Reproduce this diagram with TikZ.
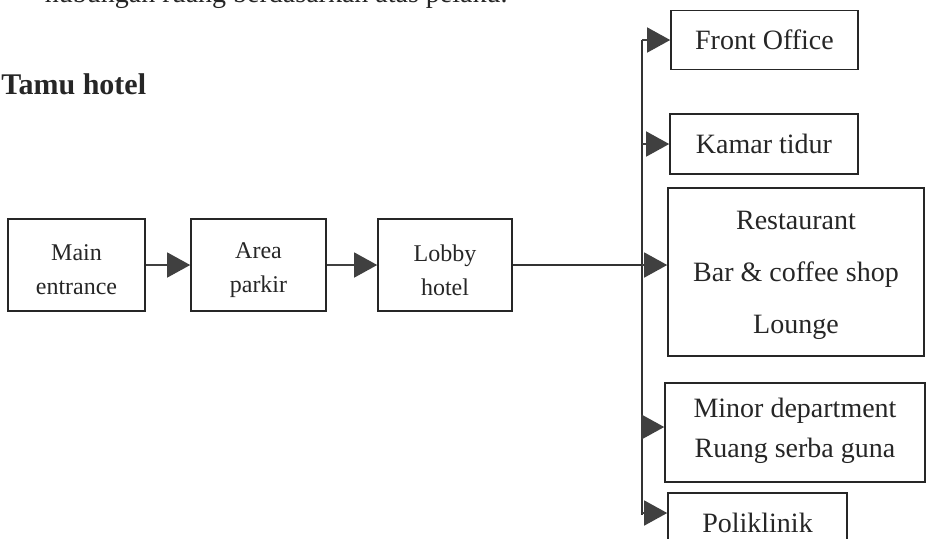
\documentclass[tikz,border=0pt]{standalone}
\usepackage{fontspec}
\setmainfont{Liberation Serif}
\usetikzlibrary{arrows.meta}
\begin{document}
\begin{tikzpicture}[x=0.5pt,y=-0.5pt,
 box/.style={draw=black!85, line width=0.8pt, inner sep=0pt, align=center, text=black!85},
 lbox/.style={box, font=\fontsize{12}{17}\selectfont},
 rbox/.style={box, font=\fontsize{14}{20}\selectfont},
 ltxt/.style={align=center, text=black!85, inner sep=0pt, font=\fontsize{12}{17}\selectfont, yshift=-2.5pt},
 conn/.style={draw=black!80, line width=0.7pt},
 arr/.style={conn, -{Triangle[length=11.5pt,width=12.5pt]}, color=black!75}]
\clip (0,0) rectangle (926,538);
% heading texts
\node[anchor=base east, inner sep=0pt, text=black!85, font=\fontsize{14}{17}\selectfont] (top) at (508,2) {hubungan ruang berdasarkan atas pelaku.};
\node[anchor=base west, inner sep=0pt, text=black!85, font=\fontsize{15}{18}\selectfont\bfseries] (tamu) at (1,94) {Tamu hotel};
% left chain
\node[lbox, minimum width=68.5pt, minimum height=46pt, label={[ltxt]center:Main\\entrance}] (main) at (76.5,265) {};
\node[lbox, minimum width=67.5pt, minimum height=46pt, label={[ltxt]center:Area\\parkir}] (area) at (258.5,265) {};
\node[lbox, minimum width=67pt, minimum height=46pt, label={[ltxt]center:Lobby\\hotel}] (lobby) at (445,265) {};
% right boxes
\node[rbox, minimum width=93.5pt, minimum height=29.5pt] (fo) at (764.5,40) {Front Office};
\node[rbox, minimum width=94pt, minimum height=30pt] (kt) at (764,144) {Kamar tidur};
\node[rbox, minimum width=128pt, minimum height=84pt, label={[ltxt, font=\fontsize{14}{26}\selectfont, yshift=1pt]center:Restaurant\\Bar \& coffee shop\\Lounge}] (rest) at (796,272) {};
\node[rbox, minimum width=130pt, minimum height=49.5pt, label={[ltxt, font=\fontsize{14}{20}\selectfont, yshift=3.5pt]center:Minor department\\Ruang serba guna}] (minor) at (795,432.5) {};
\node[rbox, minimum width=89.5pt, minimum height=30pt] (poli) at (757.5,523) {Poliklinik};
% connectors
\draw[arr] (main.east) -- (area.west);
\draw[arr] (area.east) -- (lobby.west);
\coordinate (jx) at (642,265);
\coordinate (vt) at (642,40);
\coordinate (vb) at (642,515);
\coordinate (mA) at (642,427);
\coordinate (pA) at (642,513);
\draw[conn] (lobby.east) -- (jx);
\draw[conn] (vt) -- (vb);
\draw[arr] (vt) -- (fo.west);
\draw[arr] (vt |- kt.west) -- (kt.west);
\draw[arr] (jx) -- (rest.west |- jx);
\draw[arr] (mA) -- (minor.west |- mA);
\draw[arr] (pA) -- (poli.west |- pA);
\end{tikzpicture}
\end{document}
